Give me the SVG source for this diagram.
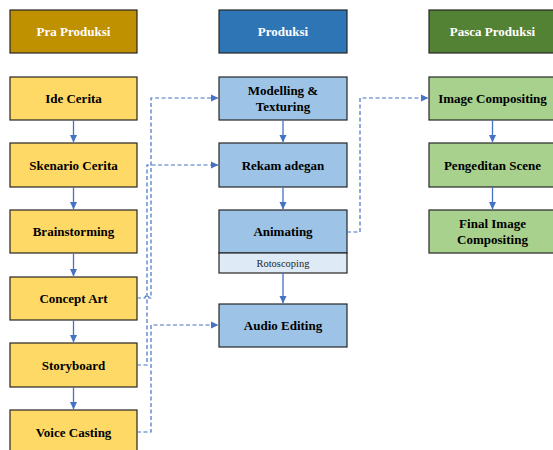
<svg xmlns="http://www.w3.org/2000/svg" width="553" height="450" viewBox="0 0 553 450">
<defs>
<marker id="ah" markerWidth="8" markerHeight="8" refX="7" refY="4" orient="auto" markerUnits="userSpaceOnUse">
<path d="M0,0.5 L7.5,4 L0,7.5 Z" fill="#4472C4"/>
</marker>
<style>
.box{stroke:#262626;stroke-width:1.2}
.hd{font-family:"Liberation Serif","Times New Roman",serif;font-weight:bold;font-size:13px;fill:#ffffff;text-anchor:middle}
.t{font-family:"Liberation Serif","Times New Roman",serif;font-weight:bold;font-size:13px;fill:#000000;text-anchor:middle}
.s{font-family:"Liberation Serif","Times New Roman",serif;font-size:10.5px;fill:#262626;text-anchor:middle}
.y{fill:#FFD966}.b{fill:#9DC3E6}.g{fill:#A9D18E}.lb{fill:#DEEBF7}
.sol{stroke:#4472C4;stroke-width:1.3;fill:none}
.dsh{stroke:#4472C4;stroke-width:1.2;fill:none;stroke-dasharray:4 2.5}
</style>
</defs>
<rect width="553" height="450" fill="#ffffff"/>

<g id="hdr-pra"><rect class="box" x="10" y="10" width="127" height="43" fill="#BF9000"/><text class="hd" x="73.5" y="36">Pra Produksi</text></g>
<g id="hdr-produksi"><rect class="box" x="219" y="10" width="128" height="43" fill="#2E75B6"/><text class="hd" x="283" y="36">Produksi</text></g>
<g id="hdr-pasca"><rect class="box" x="429" y="10" width="127" height="43" fill="#548235"/><text class="hd" x="492.5" y="36">Pasca Produksi</text></g>

<g id="ide"><rect class="box y" x="10" y="77" width="127" height="43"/><text class="t" x="73.5" y="103">Ide Cerita</text></g>
<g id="skenario"><rect class="box y" x="10" y="143" width="127" height="44"/><text class="t" x="73.5" y="169.5">Skenario Cerita</text></g>
<g id="brainstorming"><rect class="box y" x="10" y="210" width="127" height="43"/><text class="t" x="73.5" y="236">Brainstorming</text></g>
<g id="concept"><rect class="box y" x="10" y="277" width="127" height="43"/><text class="t" x="73.5" y="303">Concept Art</text></g>
<g id="storyboard"><rect class="box y" x="10" y="343" width="127" height="44"/><text class="t" x="73.5" y="369.5">Storyboard</text></g>
<g id="voice"><rect class="box y" x="10" y="410" width="127" height="44"/><text class="t" x="73.5" y="436.5">Voice Casting</text></g>

<g id="modelling"><rect class="box b" x="219" y="77" width="128" height="43"/><text class="t" x="283" y="95">Modelling &amp;</text><text class="t" x="283" y="111">Texturing</text></g>
<g id="rekam"><rect class="box b" x="219" y="143" width="128" height="44"/><text class="t" x="283" y="169.5">Rekam adegan</text></g>
<g id="animating"><rect class="box b" x="219" y="210" width="128" height="43"/><rect class="box lb" x="219" y="253" width="128" height="20"/><text class="t" x="283" y="236">Animating</text><text class="s" x="283" y="266.5">Rotoscoping</text></g>
<g id="audio"><rect class="box b" x="219" y="304" width="128" height="43"/><text class="t" x="283" y="330">Audio Editing</text></g>

<g id="image"><rect class="box g" x="429" y="77" width="127" height="43"/><text class="t" x="492.5" y="103">Image Compositing</text></g>
<g id="pengeditan"><rect class="box g" x="429" y="143" width="127" height="44"/><text class="t" x="492.5" y="169.5">Pengeditan Scene</text></g>
<g id="final"><rect class="box g" x="429" y="210" width="127" height="43"/><text class="t" x="492.5" y="228">Final Image</text><text class="t" x="492.5" y="244">Compositing</text></g>

<g id="connectors">
<path class="sol" d="M73.5,120 V142" marker-end="url(#ah)"/>
<path class="sol" d="M73.5,187 V209" marker-end="url(#ah)"/>
<path class="sol" d="M73.5,253 V276" marker-end="url(#ah)"/>
<path class="sol" d="M73.5,320 V342" marker-end="url(#ah)"/>
<path class="sol" d="M73.5,387 V409" marker-end="url(#ah)"/>
<path class="sol" d="M283,120 V142" marker-end="url(#ah)"/>
<path class="sol" d="M283,187 V209" marker-end="url(#ah)"/>
<path class="sol" d="M283,273 V303" marker-end="url(#ah)"/>
<path class="sol" d="M492.5,120 V142" marker-end="url(#ah)"/>
<path class="sol" d="M492.5,187 V209" marker-end="url(#ah)"/>
<path class="dsh" d="M137,298 H145 A2,2.5 0 0 1 149,298 H151 V98 H218" marker-end="url(#ah)"/>
<path class="dsh" d="M137,365 H147 V165 H218" marker-end="url(#ah)"/>
<path class="dsh" d="M137,432 H151 V325 H218" marker-end="url(#ah)"/>
<path class="dsh" d="M347,232 H360 V98 H428" marker-end="url(#ah)"/>
</g>
</svg>
